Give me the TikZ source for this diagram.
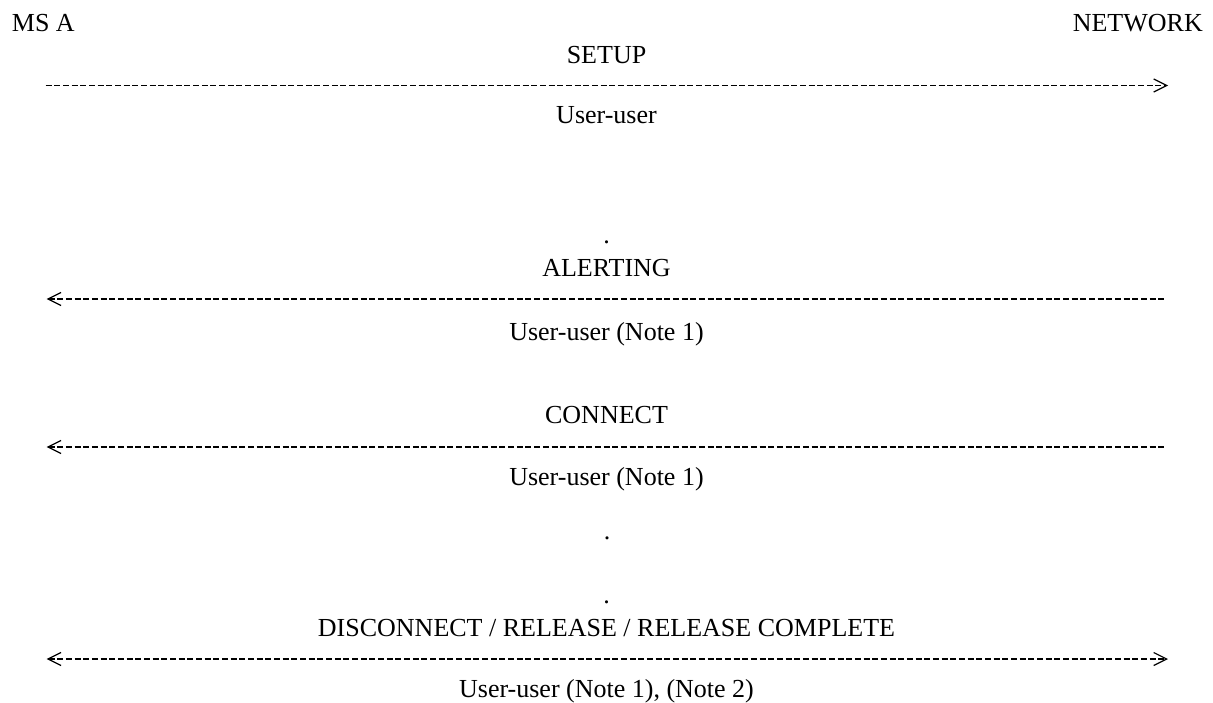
\documentclass[tikz,border=0pt]{standalone}
\usepackage{fontspec}
\setmainfont{Liberation Serif}
\usetikzlibrary{arrows.meta}
\begin{document}
\begin{tikzpicture}[x=1pt,y=-1pt,
  lbl/.style={inner sep=0pt,anchor=base,font=\fontsize{26}{30}\selectfont},
  msg/.style={line width=1.6pt,dash pattern=on 6pt off 2.67pt,
    >={Straight Barb[length=13pt,width=13pt,line width=1.2pt]}}]
\useasboundingbox (0,0) rectangle (1213,702);
% headers
\node[lbl,anchor=base west] (msa) at (11.7,31.5) {MS A};
\node[lbl,anchor=base east] (net) at (1203,31.5) {NETWORK};
% SETUP
\node[lbl] (setup) at (606.5,63) {SETUP};
\coordinate (s1) at (45.7,85.5);
\coordinate (s2) at (1168,85.5);
\draw[msg,->] (s1) -- (s2);
\node[lbl] (setupu) at (606.5,123) {User-user};
% ALERTING
\node[lbl] (dot1) at (606.5,243) {.};
\node[lbl] (alert) at (606.5,276) {ALERTING};
\coordinate (a1) at (46.7,299);
\coordinate (a2) at (1164,299);
\draw[msg,<-] (a1) -- (a2);
\node[lbl] (alertu) at (606.5,340) {User-user (Note 1)};
% CONNECT
\node[lbl] (conn) at (606.5,423) {CONNECT};
\coordinate (c1) at (46.7,447);
\coordinate (c2) at (1164,447);
\draw[msg,<-] (c1) -- (c2);
\node[lbl] (connu) at (606.5,485) {User-user (Note 1)};
\node[lbl] (dot2) at (607,539) {.};
% DISCONNECT
\node[lbl] (dot3) at (606.5,603) {.};
\node[lbl] (disc) at (606.5,636) {DISCONNECT / RELEASE / RELEASE COMPLETE};
\coordinate (d1) at (46.7,659);
\coordinate (d2) at (1168,659);
\draw[msg,<->] (d1) -- (d2);
\node[lbl] (discu) at (606.5,697) {User-user (Note 1), (Note 2)};
\end{tikzpicture}
\end{document}
